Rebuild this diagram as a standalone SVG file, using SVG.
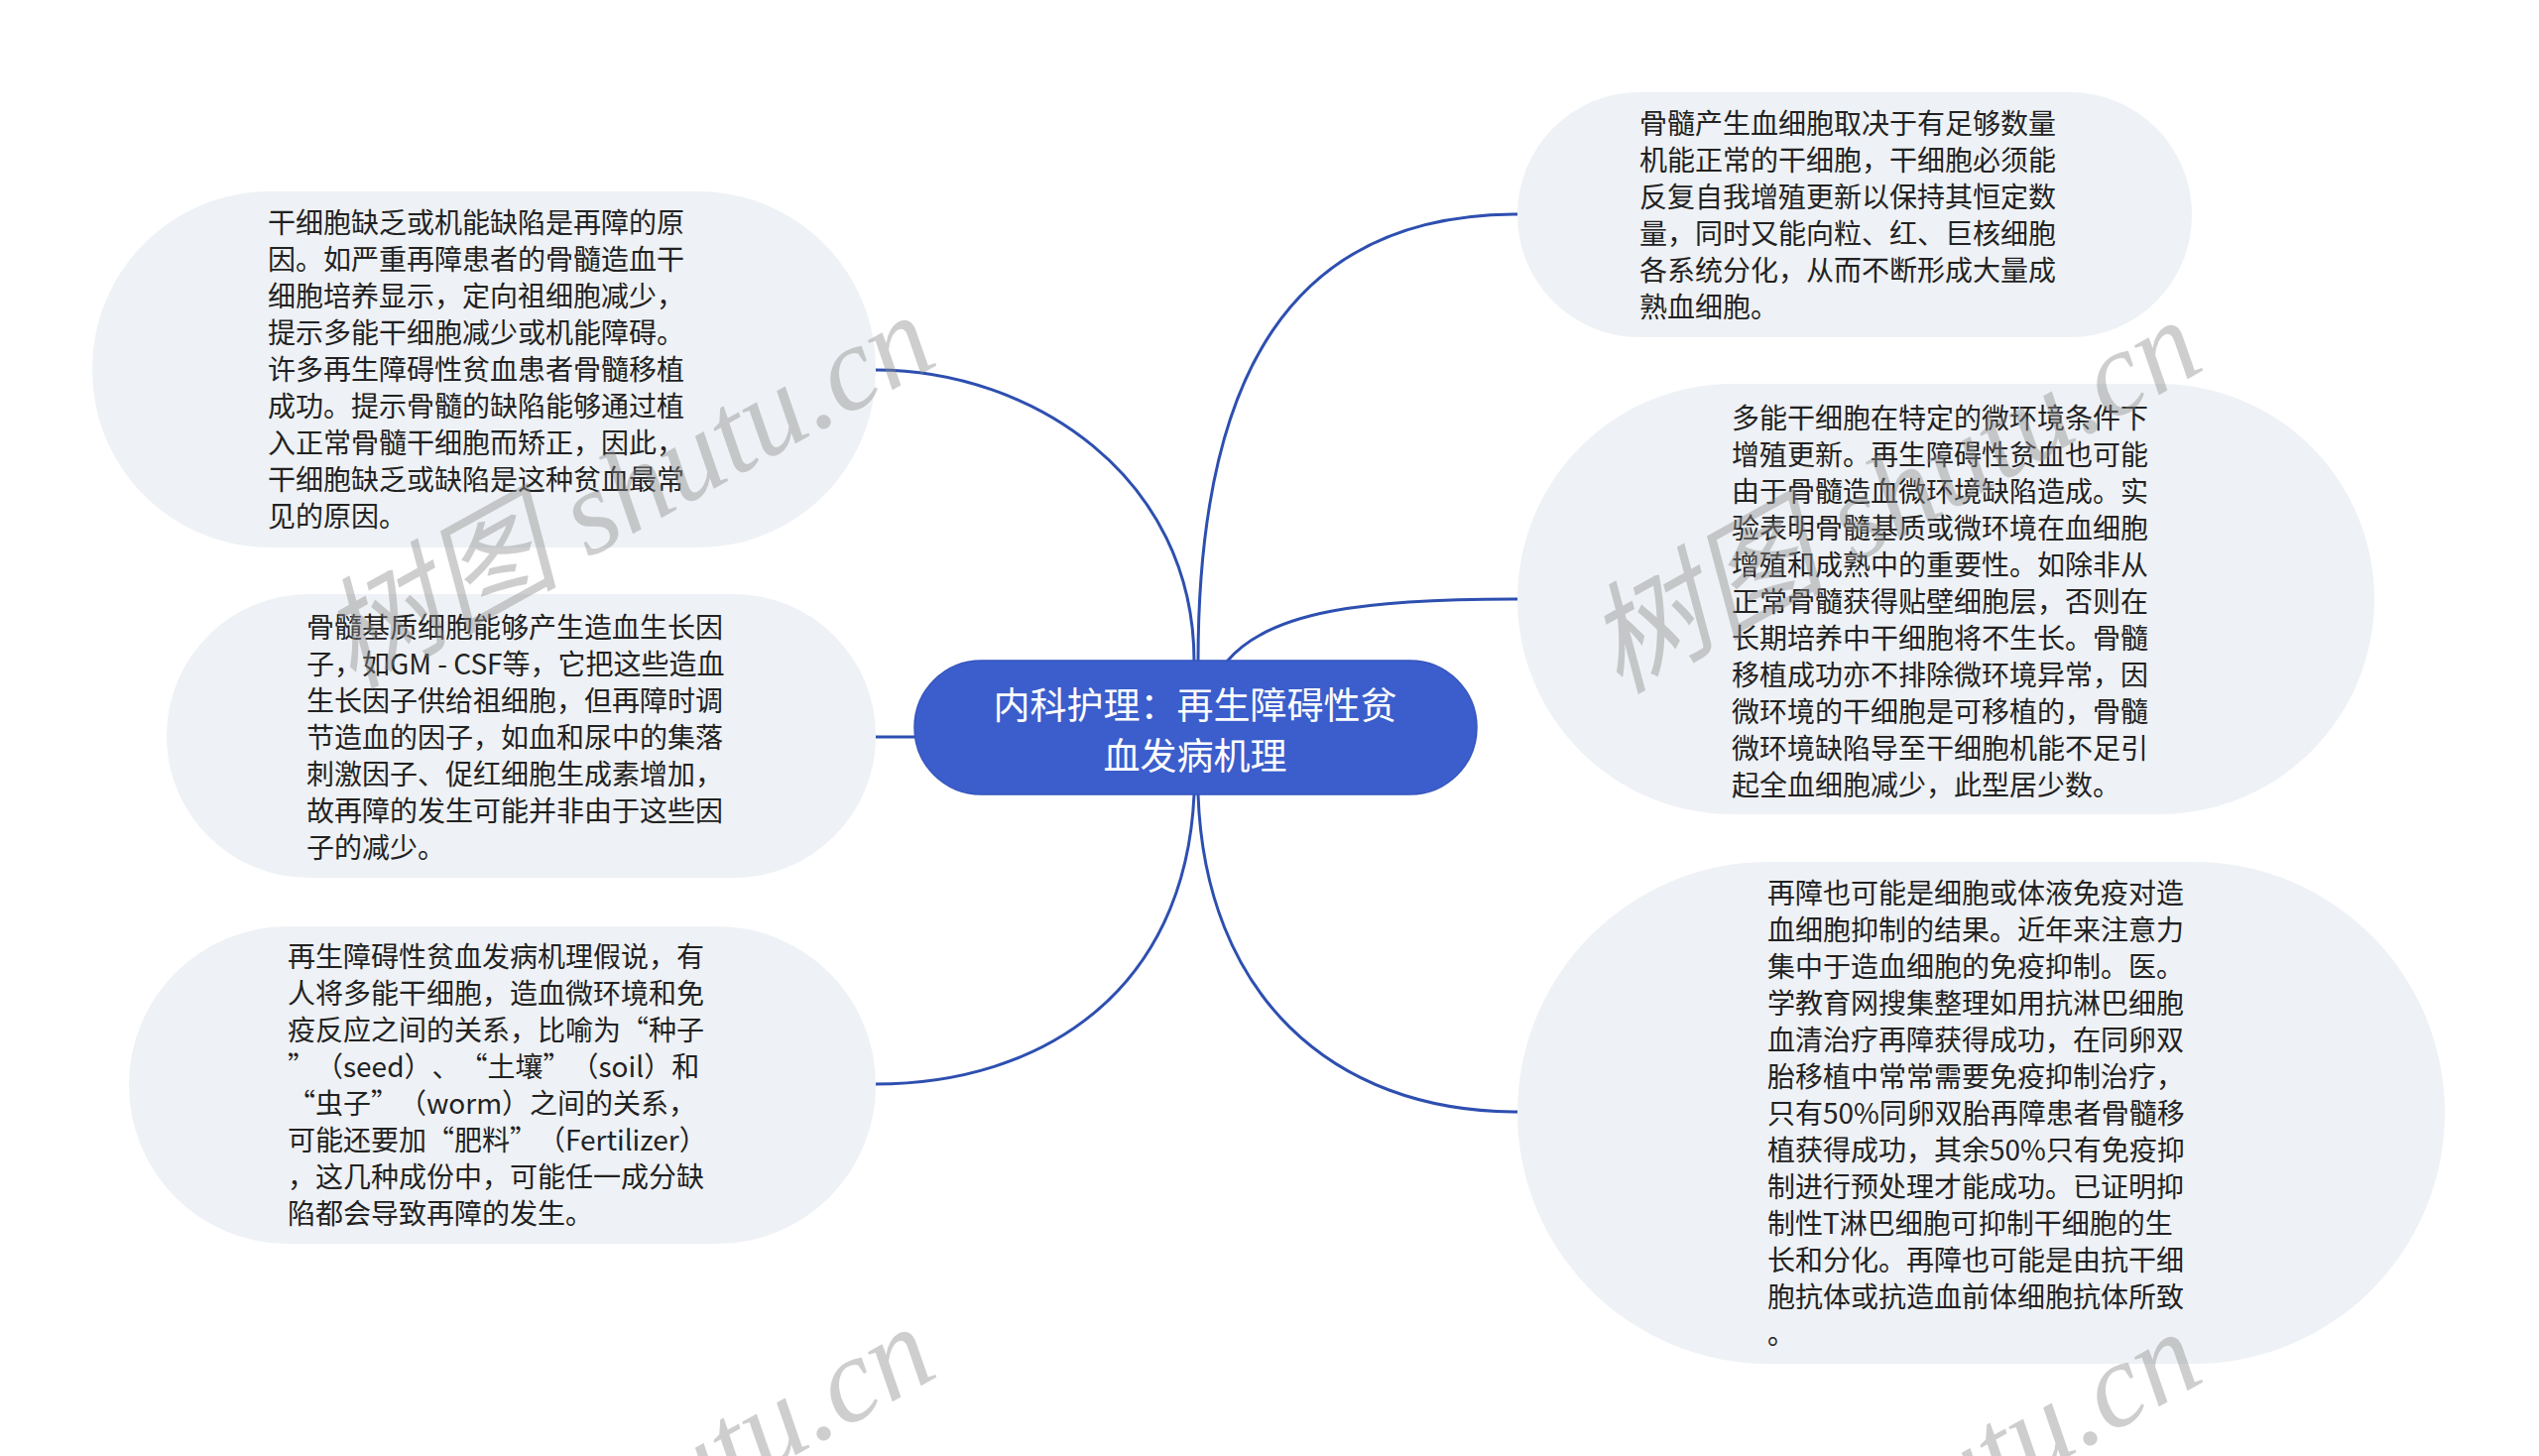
<svg xmlns="http://www.w3.org/2000/svg" width="2560" height="1468" viewBox="0 0 2560 1468">
<style>
text{text-spacing-trim:space-all;}
.leaf{fill:#eef1f5;}
.lt{font-family:"Noto Sans CJK SC","Microsoft YaHei",sans-serif;font-size:28px;fill:#222222;}
.root{fill:#3b5ecc;stroke:#3454bd;stroke-width:1.5;}
.rt{font-family:"Noto Sans CJK SC",sans-serif;font-size:37px;fill:#ffffff;text-anchor:middle;}
.edge{fill:none;stroke:#2d4fb0;stroke-width:3;}
.wm{font-family:"Liberation Serif","Noto Sans CJK SC",serif;font-style:italic;font-size:121px;fill:#8c8c8c;opacity:0.42;}
</style>
<rect width="2560" height="1468" fill="#ffffff"/>
<g id="connectors">
<path class="edge" d="M1204,667 C1204,480 1040,373 883,373"/>
<path class="edge" d="M883,743 L924,743"/>
<path class="edge" d="M1204,801 C1195,1000 1050,1093 883,1093"/>
<path class="edge" d="M1208,667 C1208,380 1300,216 1530,216"/>
<path class="edge" d="M1237,667 C1280,615 1380,604 1530,604"/>
<path class="edge" d="M1208,801 C1215,1000 1340,1121 1530,1121"/>
</g>
<g id="root">
<rect class="root" x="922" y="666" width="567" height="135" rx="67.5" ry="67.5"/>
<text class="rt"><tspan x="1205" y="725">内科护理：再生障碍性贫</tspan><tspan x="1205" y="776">血发病机理</tspan></text>
</g>
<g id="node-1">
<rect class="leaf" x="93" y="193" width="790" height="359" rx="179" ry="179"/>
<text class="lt">
<tspan x="270" y="235">干细胞缺乏或机能缺陷是再障的原</tspan>
<tspan x="270" y="272">因。如严重再障患者的骨髓造血干</tspan>
<tspan x="270" y="309">细胞培养显示，定向祖细胞减少，</tspan>
<tspan x="270" y="346">提示多能干细胞减少或机能障碍。</tspan>
<tspan x="270" y="383">许多再生障碍性贫血患者骨髓移植</tspan>
<tspan x="270" y="420">成功。提示骨髓的缺陷能够通过植</tspan>
<tspan x="270" y="457">入正常骨髓干细胞而矫正，因此，</tspan>
<tspan x="270" y="494">干细胞缺乏或缺陷是这种贫血最常</tspan>
<tspan x="270" y="531">见的原因。</tspan>
</text>
</g>
<g id="node-2">
<rect class="leaf" x="168" y="599" width="715" height="286" rx="143" ry="143"/>
<text class="lt">
<tspan x="309" y="643">骨髓基质细胞能够产生造血生长因</tspan>
<tspan x="309" y="680">子，如GM - CSF等，它把这些造血</tspan>
<tspan x="309" y="717">生长因子供给祖细胞，但再障时调</tspan>
<tspan x="309" y="754">节造血的因子，如血和尿中的集落</tspan>
<tspan x="309" y="791">刺激因子、促红细胞生成素增加，</tspan>
<tspan x="309" y="828">故再障的发生可能并非由于这些因</tspan>
<tspan x="309" y="865">子的减少。</tspan>
</text>
</g>
<g id="node-3">
<rect class="leaf" x="130" y="934" width="753" height="320" rx="160" ry="160"/>
<text class="lt">
<tspan x="290" y="975">再生障碍性贫血发病机理假说，有</tspan>
<tspan x="290" y="1012">人将多能干细胞，造血微环境和免</tspan>
<tspan x="290" y="1049">疫反应之间的关系，比喻为“种子</tspan>
<tspan x="290" y="1086">”（seed）、“土壤”（soil）和</tspan>
<tspan x="290" y="1123">“虫子”（worm）之间的关系，</tspan>
<tspan x="290" y="1160">可能还要加“肥料”（Fertilizer）</tspan>
<tspan x="290" y="1197">，这几种成份中，可能任一成分缺</tspan>
<tspan x="290" y="1234">陷都会导致再障的发生。</tspan>
</text>
</g>
<g id="node-4">
<rect class="leaf" x="1530" y="93" width="680" height="247" rx="123" ry="123"/>
<text class="lt">
<tspan x="1653" y="135">骨髓产生血细胞取决于有足够数量</tspan>
<tspan x="1653" y="172">机能正常的干细胞，干细胞必须能</tspan>
<tspan x="1653" y="209">反复自我增殖更新以保持其恒定数</tspan>
<tspan x="1653" y="246">量，同时又能向粒、红、巨核细胞</tspan>
<tspan x="1653" y="283">各系统分化，从而不断形成大量成</tspan>
<tspan x="1653" y="320">熟血细胞。</tspan>
</text>
</g>
<g id="node-5">
<rect class="leaf" x="1530" y="387" width="864" height="434" rx="217" ry="217"/>
<text class="lt">
<tspan x="1746" y="432">多能干细胞在特定的微环境条件下</tspan>
<tspan x="1746" y="469">增殖更新。再生障碍性贫血也可能</tspan>
<tspan x="1746" y="506">由于骨髓造血微环境缺陷造成。实</tspan>
<tspan x="1746" y="543">验表明骨髓基质或微环境在血细胞</tspan>
<tspan x="1746" y="580">增殖和成熟中的重要性。如除非从</tspan>
<tspan x="1746" y="617">正常骨髓获得贴壁细胞层，否则在</tspan>
<tspan x="1746" y="654">长期培养中干细胞将不生长。骨髓</tspan>
<tspan x="1746" y="691">移植成功亦不排除微环境异常，因</tspan>
<tspan x="1746" y="728">微环境的干细胞是可移植的，骨髓</tspan>
<tspan x="1746" y="765">微环境缺陷导至干细胞机能不足引</tspan>
<tspan x="1746" y="802">起全血细胞减少，此型居少数。</tspan>
</text>
</g>
<g id="node-6">
<rect class="leaf" x="1530" y="869" width="935" height="506" rx="253" ry="253"/>
<text class="lt">
<tspan x="1782" y="911">再障也可能是细胞或体液免疫对造</tspan>
<tspan x="1782" y="948">血细胞抑制的结果。近年来注意力</tspan>
<tspan x="1782" y="985">集中于造血细胞的免疫抑制。医。</tspan>
<tspan x="1782" y="1022">学教育网搜集整理如用抗淋巴细胞</tspan>
<tspan x="1782" y="1059">血清治疗再障获得成功，在同卵双</tspan>
<tspan x="1782" y="1096">胎移植中常常需要免疫抑制治疗，</tspan>
<tspan x="1782" y="1133">只有50%同卵双胎再障患者骨髓移</tspan>
<tspan x="1782" y="1170">植获得成功，其余50%只有免疫抑</tspan>
<tspan x="1782" y="1207">制进行预处理才能成功。已证明抑</tspan>
<tspan x="1782" y="1244">制性T淋巴细胞可抑制干细胞的生</tspan>
<tspan x="1782" y="1281">长和分化。再障也可能是由抗干细</tspan>
<tspan x="1782" y="1318">胞抗体或抗造血前体细胞抗体所致</tspan>
<tspan x="1782" y="1355">。</tspan>
</text>
</g>
<g id="watermarks">
<text class="wm" transform="translate(355,695) rotate(-29)">树图 shutu.cn</text>
<text class="wm" transform="translate(1632,700) rotate(-29)">树图 shutu.cn</text>
<text class="wm" transform="translate(355,1715) rotate(-29)">树图 shutu.cn</text>
<text class="wm" transform="translate(1632,1720) rotate(-29)">树图 shutu.cn</text>
</g>
</svg>
